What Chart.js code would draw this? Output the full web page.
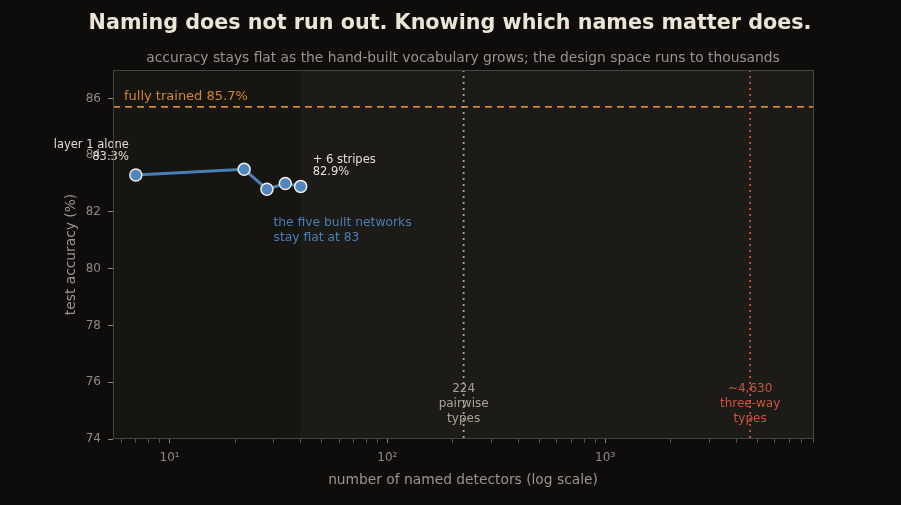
<!DOCTYPE html>
<html>
<head>
<meta charset="utf-8">
<script src="https://cdn.jsdelivr.net/npm/chart.js@4/dist/chart.umd.min.js"></script>
<style>
  html, body { margin: 0; padding: 0; background: #0e0d0b; }
  #wrap { width: 901px; height: 505px; }
</style>
</head>
<body>
<div id="wrap"><canvas id="chart" width="901" height="505"></canvas></div>
<script>
// données
const detectors = [7, 22, 28, 34, 40];
const accuracy = [83.3, 83.5, 82.8, 83.0, 82.9];
const fullyTrained = 85.7;
const pairwiseTypes = 224;
const threeWayTypes = 4630;
const builtUpTo = 40;
const yTicks = [74, 76, 78, 80, 82, 84, 86];
const xRange = [5.5, 9000];
const yRange = [74, 87];

const FONT = "'DejaVu Sans', sans-serif";
const sup = { "0": "⁰", "1": "¹", "2": "²", "3": "³", "4": "⁴" };

// dessine le fond, les lignes de référence et les annotations
const decor = {
  id: "decor",
  beforeDatasetsDraw(chart) {
    const { ctx, chartArea: a, scales: { x, y } } = chart;
    ctx.save();
    ctx.fillStyle = "#1c1b17";
    ctx.fillRect(a.left, a.top, a.right - a.left, a.bottom - a.top);
    // zone des réseaux construits à la main
    const xs = x.getPixelForValue(builtUpTo);
    ctx.fillStyle = "#161511";
    ctx.fillRect(a.left, a.top, xs - a.left, a.bottom - a.top);

    // ligne entraînée
    const yf = y.getPixelForValue(fullyTrained);
    ctx.strokeStyle = "#d4862e";
    ctx.lineWidth = 1.8;
    ctx.setLineDash([7, 5]);
    ctx.beginPath();
    ctx.moveTo(a.left, yf);
    ctx.lineTo(a.right, yf);
    ctx.stroke();

    // lignes verticales
    const vlines = [[pairwiseTypes, "#a8a396"], [threeWayTypes, "#c8553d"]];
    ctx.setLineDash([2, 4]);
    ctx.lineWidth = 1.8;
    vlines.forEach(([v, c]) => {
      const px = x.getPixelForValue(v);
      ctx.strokeStyle = c;
      ctx.beginPath();
      ctx.moveTo(px, a.top);
      ctx.lineTo(px, a.bottom);
      ctx.stroke();
    });
    ctx.restore();
  },
  afterDatasetsDraw(chart) {
    const { ctx, chartArea: a, scales: { x, y } } = chart;
    ctx.save();
    ctx.textBaseline = "middle";

    ctx.font = "13px " + FONT;
    ctx.fillStyle = "#d4862e";
    ctx.textAlign = "left";
    ctx.fillText("fully trained 85.7%", a.left + 11, y.getPixelForValue(fullyTrained) - 10);

    const p0x = x.getPixelForValue(detectors[0]);
    const p0y = y.getPixelForValue(accuracy[0]);
    ctx.font = "11.5px " + FONT;
    ctx.fillStyle = "#e2ddd0";
    ctx.textAlign = "right";
    ctx.fillText("layer 1 alone", p0x - 7, p0y - 30);
    ctx.fillText("83.3%", p0x - 7, p0y - 18);

    const pnx = x.getPixelForValue(detectors[4]);
    const pny = y.getPixelForValue(accuracy[4]);
    ctx.textAlign = "left";
    ctx.fillText("+ 6 stripes", pnx + 12, pny - 26);
    ctx.fillText("82.9%", pnx + 12, pny - 14);

    ctx.font = "12.3px " + FONT;
    ctx.fillStyle = "#4a7fb5";
    const bx = x.getPixelForValue(30);
    const by = y.getPixelForValue(81.6);
    ctx.fillText("the five built networks", bx, by);
    ctx.fillText("stay flat at 83", bx, by + 15);

    ctx.font = "12px " + FONT;
    ctx.textAlign = "center";
    const ly = y.getPixelForValue(75.76);
    ctx.fillStyle = "#a8a396";
    let px = x.getPixelForValue(pairwiseTypes);
    ["224", "pairwise", "types"].forEach((t, i) => ctx.fillText(t, px, ly + i * 15));
    ctx.fillStyle = "#c8553d";
    px = x.getPixelForValue(threeWayTypes);
    ["~4,630", "three-way", "types"].forEach((t, i) => ctx.fillText(t, px, ly + i * 15));

    // cadre
    ctx.strokeStyle = "#46443e";
    ctx.lineWidth = 1;
    ctx.strokeRect(a.left + 0.5, a.top + 0.5, a.right - a.left, a.bottom - a.top - 1);

    // titres
    ctx.textAlign = "center";
    ctx.font = "bold 20.7px " + FONT;
    ctx.fillStyle = "#ece4d4";
    ctx.fillText("Naming does not run out. Knowing which names matter does.", 450, 24);
    ctx.font = "13.8px " + FONT;
    ctx.fillStyle = "#9a958a";
    ctx.fillText("accuracy stays flat as the hand-built vocabulary grows; the design space runs to thousands", (a.left + a.right) / 2, 58);
    ctx.restore();
  }
};

new Chart(document.getElementById("chart").getContext("2d"), {
  type: "line",
  data: {
    datasets: [{
      data: detectors.map((d, i) => ({ x: d, y: accuracy[i] })),
      borderColor: "#4a7fb5",
      borderWidth: 3,
      tension: 0,
      pointRadius: 6,
      pointHoverRadius: 6,
      pointBackgroundColor: "#4f86c0",
      pointBorderColor: "#f0ede4",
      pointBorderWidth: 1.5
    }]
  },
  options: {
    responsive: false,
    animation: false,
    layout: { padding: { top: 70, right: 88, left: 0, bottom: 0 } },
    plugins: { legend: { display: false }, tooltip: { enabled: false } },
    scales: {
      x: {
        type: "logarithmic",
        min: xRange[0],
        max: xRange[1],
        afterFit: s => { s.height = 66; },
        afterBuildTicks: s => {
          const t = [];
          for (let e = 0; e <= 3; e++) {
            for (let k = 1; k <= 9; k++) {
              const v = k * Math.pow(10, e);
              if (v >= xRange[0] && v <= xRange[1]) t.push({ value: v, major: k === 1 });
            }
          }
          s.ticks = t;
        },
        grid: {
          drawOnChartArea: false,
          drawTicks: true,
          tickLength: 4,
          tickColor: c => (c.tick && c.tick.major ? "#8f8a80" : "#55524b")
        },
        border: { display: false },
        ticks: {
          autoSkip: false,
          maxRotation: 0,
          padding: 8,
          color: "#8f8a80",
          font: { family: FONT, size: 12 },
          callback: v => {
            const e = Math.log10(v);
            return Math.abs(e - Math.round(e)) < 1e-9 ? "10" + sup[Math.round(e)] : "";
          }
        },
        title: {
          display: true,
          text: "number of named detectors (log scale)",
          color: "#9a958a",
          font: { family: FONT, size: 13.8 },
          padding: { top: 0, bottom: 16 }
        }
      },
      y: {
        min: yRange[0],
        max: yRange[1],
        afterFit: s => { s.width = 113; },
        afterBuildTicks: s => { s.ticks = yTicks.map(v => ({ value: v })); },
        grid: { drawOnChartArea: false, drawTicks: true, tickLength: 5, tickColor: "#8f8a80" },
        border: { display: false },
        ticks: {
          padding: 7,
          color: "#8f8a80",
          font: { family: FONT, size: 12 }
        },
        title: {
          display: true,
          text: "test accuracy (%)",
          color: "#9a958a",
          font: { family: FONT, size: 13.8 },
          padding: { top: 63, bottom: 0 }
        }
      }
    }
  },
  plugins: [decor]
});
</script>
</body>
</html>
